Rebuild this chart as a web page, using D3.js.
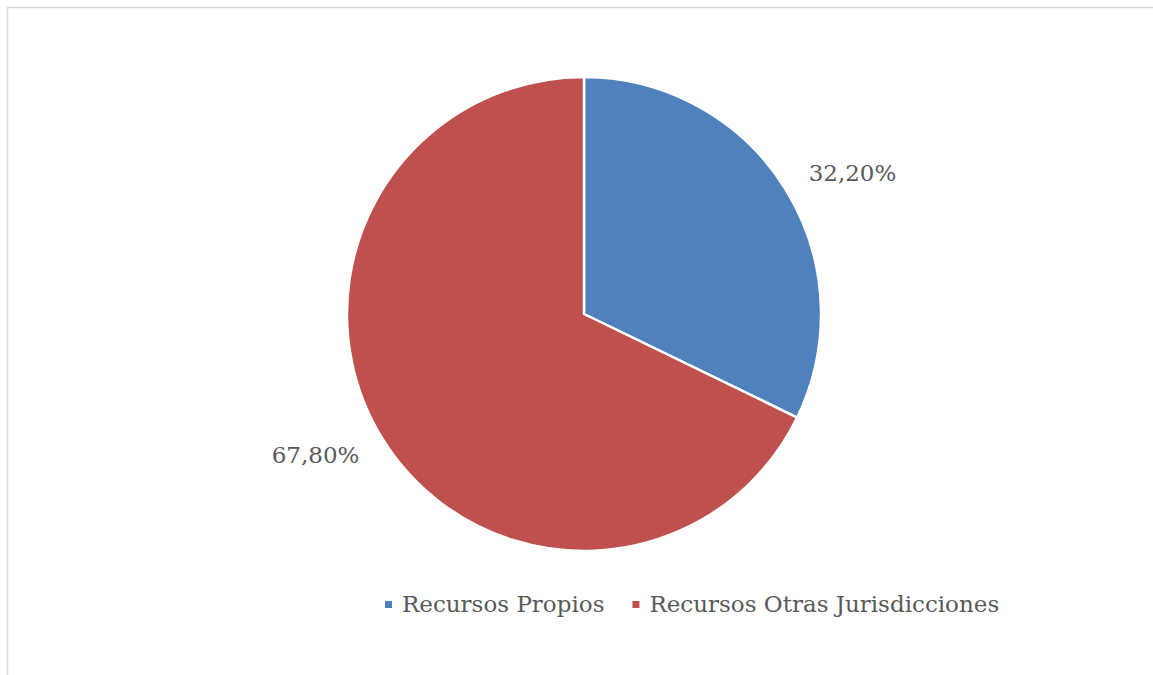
<!DOCTYPE html>
<html>
<head>
<meta charset="utf-8">
<script src="https://cdn.jsdelivr.net/npm/d3@7"></script>
<style>
  body { margin: 0; background: #fff; }
  text { font-family: "DejaVu Serif", serif; fill: #595959; }
</style>
</head>
<body>
<svg id="chart" width="1153" height="675"></svg>
<script>
'use strict';

// Data
const categories = ['Recursos Propios', 'Recursos Otras Jurisdicciones'];
const values = [32.2, 67.8];
const labels = ['32,20%', '67,80%'];
const colors = ['#4F81BD', '#C0504D'];

const WIDTH = 1153;
const HEIGHT = 675;
const CX = 584;
const CY = 314;
const RADIUS = 237;
const LABEL_RADIUS = 265;
const FONT_SIZE = '23px';

const svg = d3.select('#chart');

// Frame
svg.append('rect')
  .attr('x', 7.5)
  .attr('y', 7.5)
  .attr('width', WIDTH)
  .attr('height', HEIGHT)
  .attr('fill', 'none')
  .attr('stroke', '#d9d9d9')
  .attr('stroke-width', 1.5);

const pie = d3.pie().sort(null).value(d => d.value);
const arc = d3.arc().innerRadius(0).outerRadius(RADIUS);

const data = categories.map((c, i) => ({ name: c, value: values[i], label: labels[i], color: colors[i] }));
const arcs = pie(data);

const g = svg.append('g').attr('transform', `translate(${CX},${CY})`);

g.selectAll('path.slice')
  .data(arcs)
  .enter()
  .append('path')
    .attr('class', 'slice')
    .attr('d', arc)
    .attr('fill', d => d.data.color)
    .attr('stroke', '#fff')
    .attr('stroke-width', 2.5)
    .attr('stroke-linejoin', 'round');

// Data labels, anchored outside the slice on its mid angle
g.selectAll('text.label')
  .data(arcs)
  .enter()
  .append('text')
    .attr('class', 'label')
    .attr('x', d => LABEL_RADIUS * Math.sin((d.startAngle + d.endAngle) / 2))
    .attr('y', d => -LABEL_RADIUS * Math.cos((d.startAngle + d.endAngle) / 2))
    .attr('dy', '0.35em')
    .attr('text-anchor', d => Math.sin((d.startAngle + d.endAngle) / 2) > 0 ? 'start' : 'end')
    .style('font-size', FONT_SIZE)
    .text(d => d.data.label);

// Legend
const legend = svg.append('g').attr('transform', 'translate(385,604)');
let offset = 0;
data.forEach(d => {
  const item = legend.append('g').attr('transform', `translate(${offset},0)`);
  item.append('rect')
    .attr('x', 0)
    .attr('y', -3)
    .attr('width', 7)
    .attr('height', 7)
    .attr('fill', d.color);
  const t = item.append('text')
    .attr('x', 17)
    .attr('y', 0)
    .attr('dy', '0.35em')
    .style('font-size', FONT_SIZE)
    .text(d.name);
  offset += 17 + t.node().getComputedTextLength() + 28;
});
</script>
</body>
</html>
